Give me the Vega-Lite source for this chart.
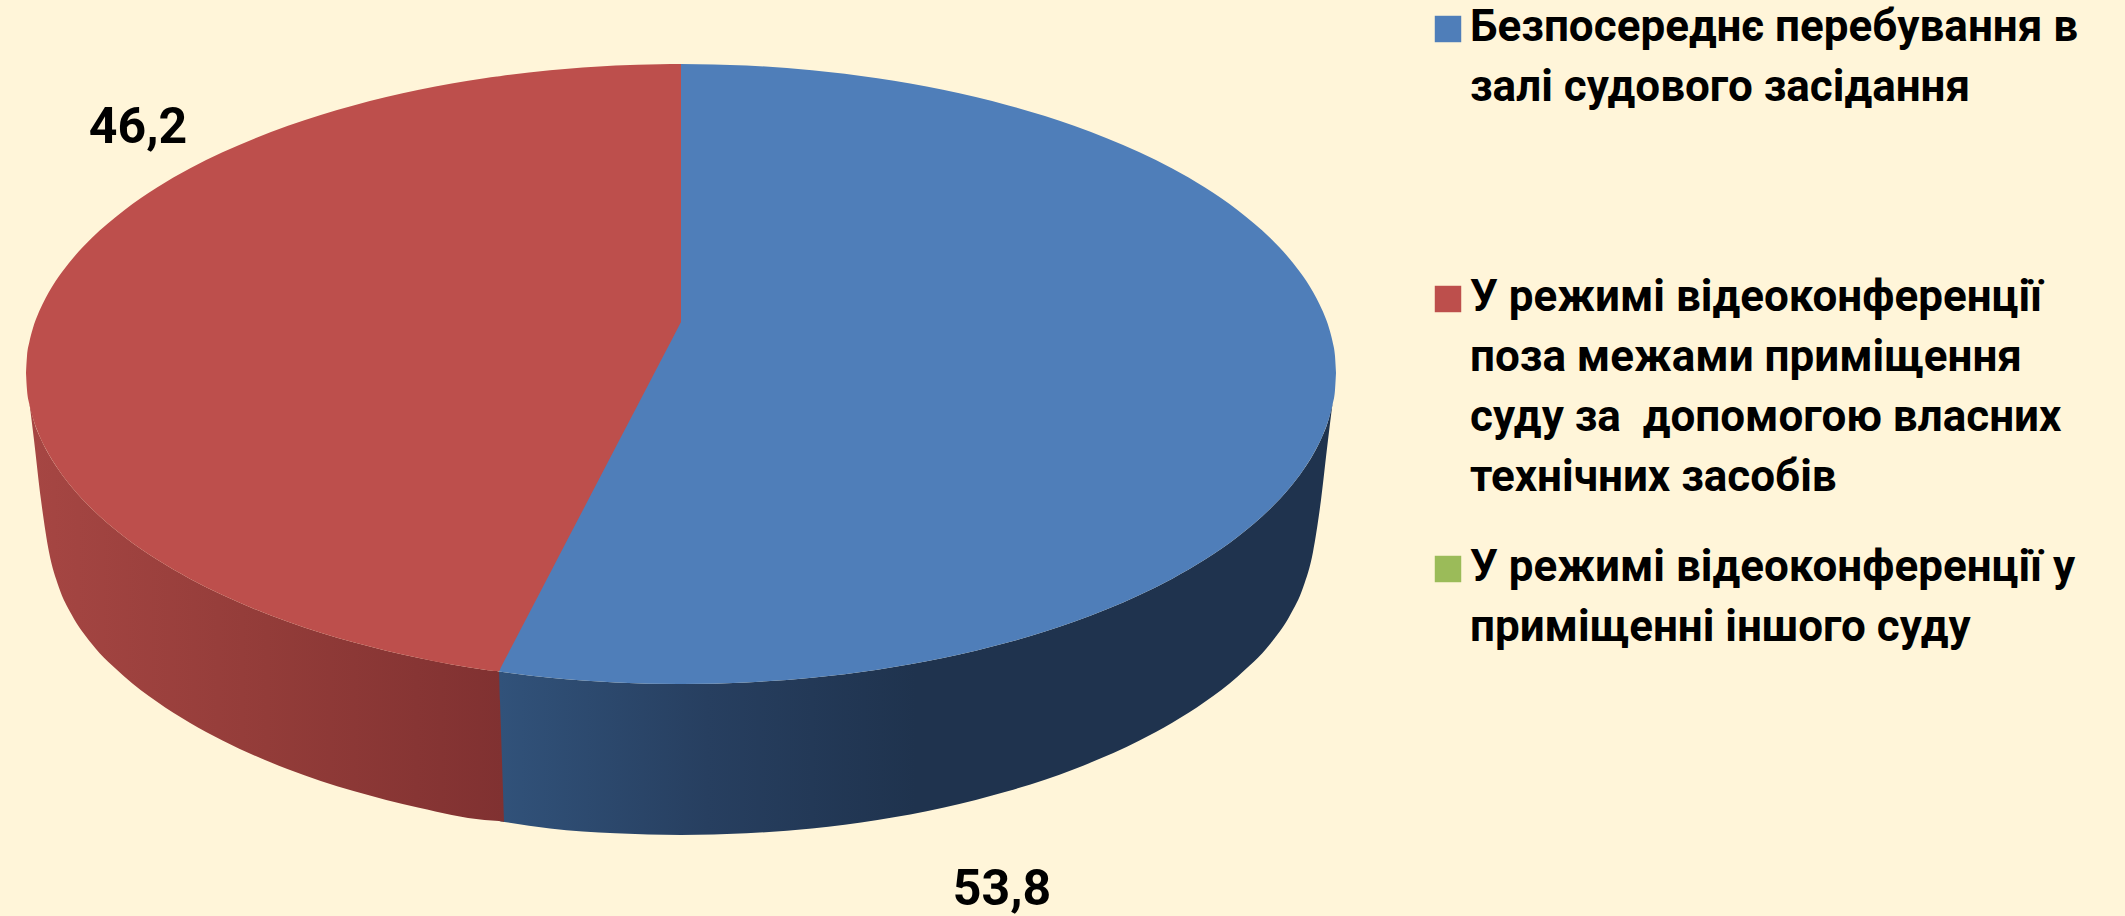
{
"$schema":"https://vega.github.io/schema/vega-lite/v6.json",
"width":2125,"height":916,
"autosize":{"type":"fit","contains":"padding"},
"padding":0,
"background":"#FFF5D9",
"view":{"stroke":null},
"config":{"font":"Roboto"},
"datasets":{
"sideBlue":[{"x":499,"y":671.5,"y2":821},{"x":550,"y":677.72,"y2":828.39},{"x":615.5,"y":682.44,"y2":833.36},{"x":681,"y":684,"y2":835},{"x":746.5,"y":682.44,"y2":833.36},{"x":812,"y":677.72,"y2":828.39},{"x":877.5,"y":669.67,"y2":819.93},{"x":943,"y":658.04,"y2":807.65},{"x":1008.5,"y":642.33,"y2":791.04},{"x":1074,"y":621.8,"y2":769.2},{"x":1139.5,"y":595.1,"y2":740.56},{"x":1172.25,"y":578.71,"y2":722.8},{"x":1205,"y":559.6,"y2":701.85},{"x":1237.75,"y":536.83,"y2":676.39},{"x":1270.5,"y":508.56,"y2":643.56},{"x":1290.15,"y":487.31,"y2":615},{"x":1303.25,"y":470.11,"y2":587},{"x":1313,"y":454.7,"y2":552},{"x":1321,"y":439.2,"y2":500},{"x":1328,"y":421.5,"y2":440},{"x":1332.5,"y":403.5,"y2":403.5}],
"sideRed":[{"x":29.5,"y":403.5,"y2":403.5},{"x":34,"y":421.5,"y2":440},{"x":41,"y":439.2,"y2":500},{"x":49,"y":454.7,"y2":552},{"x":58.75,"y":470.11,"y2":587},{"x":71.85,"y":487.31,"y2":615},{"x":91.5,"y":508.56,"y2":643.56},{"x":124.25,"y":536.83,"y2":676.39},{"x":157,"y":559.6,"y2":701.85},{"x":189.75,"y":578.71,"y2":722.8},{"x":222.5,"y":595.1,"y2":740.56},{"x":288,"y":621.8,"y2":769.2},{"x":353.5,"y":642.33,"y2":791.04},{"x":419,"y":658.04,"y2":807.65},{"x":484.5,"y":669.67,"y2":819.93},{"x":499,"y":671.5,"y2":821},{"x":500,"y":701,"y2":821.2},{"x":501,"y":731,"y2":821.4},{"x":502,"y":761,"y2":821.6},{"x":503,"y":791,"y2":821.8},{"x":504,"y":822,"y2":822}],
"topRed":[{"x":26,"y":373,"y2":373},{"x":27,"y":356.1,"y2":390},{"x":29.3,"y":342.14,"y2":404.06},{"x":32.55,"y":329.41,"y2":416.87},{"x":39.1,"y":311.51,"y2":434.89},{"x":45.65,"y":297.88,"y2":448.6},{"x":58.75,"y":276.51,"y2":470.11},{"x":71.85,"y":259.42,"y2":487.31},{"x":91.5,"y":238.31,"y2":508.56},{"x":124.25,"y":210.22,"y2":536.83},{"x":157,"y":187.6,"y2":559.6},{"x":189.75,"y":168.62,"y2":578.71},{"x":222.5,"y":152.33,"y2":595.1},{"x":288,"y":125.8,"y2":621.8},{"x":353.5,"y":105.4,"y2":642.33},{"x":419,"y":89.8,"y2":658.04},{"x":484.5,"y":78.23,"y2":669.67},{"x":497,"y":76.5,"y2":671},{"x":499,"y":76.2,"y2":671},{"x":501,"y":75.9,"y2":667.2},{"x":550,"y":70.24,"y2":573.2},{"x":615.5,"y":65.55,"y2":447.6},{"x":660,"y":64.2,"y2":362.3},{"x":681,"y":64,"y2":322}],
"topBlue":[{"x":499,"y":80,"y2":671.5},{"x":550,"y":74,"y2":677.72},{"x":615.5,"y":69,"y2":682.44},{"x":680,"y":67,"y2":684},{"x":681,"y":64,"y2":684},{"x":746.5,"y":65.55,"y2":682.44},{"x":812,"y":70.24,"y2":677.72},{"x":877.5,"y":78.23,"y2":669.67},{"x":943,"y":89.8,"y2":658.04},{"x":1008.5,"y":105.4,"y2":642.33},{"x":1074,"y":125.8,"y2":621.8},{"x":1139.5,"y":152.33,"y2":595.1},{"x":1172.25,"y":168.62,"y2":578.71},{"x":1205,"y":187.6,"y2":559.6},{"x":1237.75,"y":210.22,"y2":536.83},{"x":1270.5,"y":238.31,"y2":508.56},{"x":1290.15,"y":259.42,"y2":487.31},{"x":1303.25,"y":276.51,"y2":470.11},{"x":1316.35,"y":297.88,"y2":448.6},{"x":1322.9,"y":311.51,"y2":434.89},{"x":1329.45,"y":329.41,"y2":416.87},{"x":1332.7,"y":342.14,"y2":404.06},{"x":1335,"y":356.1,"y2":390},{"x":1336,"y":373,"y2":373}],
"labels":[{"share":53.8,"text":"53,8","x":1002,"y":905},{"share":46.2,"text":"46,2","x":138,"y":143}]
},
"layer":[
{"data":{"name":"sideBlue"},
 "mark":{"type":"area","interpolate":"monotone","color":{"gradient":"linear","x1":0,"x2":1,"y1":0,"y2":0,"stops":[{"offset":0,"color":"#31527A"},{"offset":0.25,"color":"#273F60"},{"offset":0.5,"color":"#1F334E"},{"offset":1,"color":"#1F334E"}]}},
 "encoding":{"x":{"field":"x","type":"quantitative","scale":{"domain":[0,2125],"nice":false,"zero":false},"axis":null},"y":{"field":"y","type":"quantitative","scale":{"domain":[916,0],"nice":false,"zero":false},"axis":null},"y2":{"field":"y2"}}},
{"data":{"name":"sideRed"},
 "mark":{"type":"area","interpolate":"monotone","color":{"gradient":"linear","x1":0,"x2":1,"y1":0,"y2":0,"stops":[{"offset":0,"color":"#A64643"},{"offset":0.5,"color":"#933C39"},{"offset":1,"color":"#803131"}]}},
 "encoding":{"x":{"field":"x","type":"quantitative","axis":null},"y":{"field":"y","type":"quantitative","axis":null},"y2":{"field":"y2"}}},
{"data":{"name":"topBlue"},
 "transform":[{"calculate":"'Безпосереднє перебування в залі судового засідання'","as":"category"}],
 "mark":{"type":"area","interpolate":"monotone"},
 "encoding":{"x":{"field":"x","type":"quantitative","axis":null},"y":{"field":"y","type":"quantitative","axis":null},"y2":{"field":"y2"},
  "color":{"field":"category","type":"nominal","sort":null,
   "scale":{"domain":["Безпосереднє перебування в залі судового засідання","У режимі відеоконференції поза межами приміщення суду за  допомогою власних технічних засобів","У режимі відеоконференції у приміщенні іншого суду"],"range":["#4F7EB9","#BD4F4C","#9BBB59"]},
   "legend":{"orient":"none","legendX":1426,"legendY":7,"title":null,"gridAlign":"all","rowPadding":46,"symbolType":"square","symbolSize":700,"symbolStrokeWidth":0,"symbolOpacity":1,"labelFont":"Roboto","labelFontWeight":"bold","labelFontSize":44,"labelColor":"#000000","labelOffset":0,"labelLimit":800,"labelBaseline":"middle","labelExpr":"split(replace(replace(replace(replace(replace(replace(datum.label,'за  допомогою','за\u00a0 допомогою'),' залі','|залі'),' поза','|поза'),' суду за','|суду за'),' технічних','|технічних'),' приміщенні','|приміщенні'),'|')","encode":{"labels":{"update":{"lineHeight":{"value":60},"dy":{"value":-1}}}}}}}},
{"data":{"name":"topRed"},
 "transform":[{"calculate":"'У режимі відеоконференції поза межами приміщення суду за  допомогою власних технічних засобів'","as":"category"}],
 "mark":{"type":"area","interpolate":"monotone"},
 "encoding":{"x":{"field":"x","type":"quantitative","axis":null},"y":{"field":"y","type":"quantitative","axis":null},"y2":{"field":"y2"},
  "color":{"field":"category","type":"nominal"}}},
{"data":{"name":"labels"},
 "mark":{"type":"text","font":"Roboto","fontWeight":"bold","fontSize":50,"color":"#000000","align":"center","baseline":"alphabetic"},
 "encoding":{"x":{"field":"x","type":"quantitative","axis":null},"y":{"field":"y","type":"quantitative","axis":null},"text":{"field":"text"}}}
]
}
